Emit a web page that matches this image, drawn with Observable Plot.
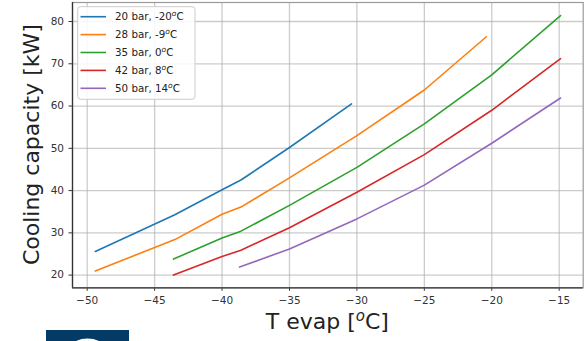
<!DOCTYPE html>
<html>
<head>
<meta charset="utf-8">
<script src="https://cdn.jsdelivr.net/npm/d3@7"></script>
<script src="https://cdn.jsdelivr.net/npm/@observablehq/plot@0.6"></script>
<style>
  html, body { margin: 0; padding: 0; background: white; }
  svg { display: block; }
</style>
</head>
<body>
<div id="chart"></div>
<script>
// ---- data ----
const seriesNames = ["20 bar, -20°C", "28 bar, -9°C", "35 bar, 0°C", "42 bar, 8°C", "50 bar, 14°C"];
const seriesColors = ["#1f77b4", "#ff7f0e", "#2ca02c", "#d62728", "#9467bd"];

const tEvap20 = [-49.4, -43.5, -40.0, -38.6, -35.0, -30.4];
const cap20   = [25.6, 34.3, 40.2, 42.5, 50.2, 60.5];

const tEvap28 = [-49.4, -43.5, -40.0, -38.6, -35.0, -30.0, -25.0, -20.4];
const cap28   = [21.0, 28.4, 34.4, 36.1, 43.0, 53.0, 63.8, 76.4];

const tEvap35 = [-43.6, -40.0, -38.6, -35.0, -30.0, -25.0, -20.0, -14.9];
const cap35   = [23.8, 28.8, 30.4, 36.5, 45.5, 55.8, 67.4, 81.4];

const tEvap42 = [-43.6, -40.0, -38.6, -35.0, -30.0, -25.0, -20.0, -14.9];
const cap42   = [20.0, 24.4, 25.9, 31.2, 39.6, 48.5, 59.0, 71.2];

const tEvap50 = [-38.7, -35.0, -30.0, -25.0, -20.0, -14.9];
const cap50   = [21.9, 26.2, 33.3, 41.3, 51.2, 61.9];

const xTicks = [-50, -45, -40, -35, -30, -25, -20, -15];
const yTicks = [20, 30, 40, 50, 60, 70, 80];
const xDomain = [-51.09, -13.22];
const yDomain = [17.0, 84.5];

// ---- build table ----
const xs = [tEvap20, tEvap28, tEvap35, tEvap42, tEvap50];
const ys = [cap20, cap28, cap35, cap42, cap50];
const rows = [];
seriesNames.forEach((name, i) => {
  xs[i].forEach((t, j) => rows.push({series: name, t, cap: ys[i][j]}));
});

const W = 588, H = 341;
const mL = 72, mR = 5.3, mT = 2, mB = 53.7;

const svg = Plot.plot({
  width: W, height: H,
  marginLeft: mL, marginRight: mR, marginTop: mT, marginBottom: mB,
  style: {fontFamily: "DejaVu Sans", fontSize: "10.5px", color: "#333", background: "white", overflow: "visible"},
  x: {domain: xDomain, ticks: xTicks, tickSize: 3.5, tickPadding: 5, label: null},
  y: {domain: yDomain, ticks: yTicks, tickSize: 3.5, tickPadding: 5, label: null},
  color: {domain: seriesNames, range: seriesColors},
  marks: [
    Plot.ruleX(xTicks, {stroke: "#b0b0b0", strokeOpacity: 0.65, strokeWidth: 1.3}),
    Plot.ruleY(yTicks, {stroke: "#b0b0b0", strokeOpacity: 0.65, strokeWidth: 1.3}),
    Plot.line(rows, {x: "t", y: "cap", z: "series", stroke: "series", strokeWidth: 1.6}),
    Plot.frame({stroke: "#9a9a9a", strokeWidth: 1.2}),
    Plot.ruleY([yDomain[0]], {stroke: "#333", strokeWidth: 1.3}),
    Plot.ruleX([xDomain[0]], {stroke: "#333", strokeWidth: 1.3})
  ]
});

document.getElementById("chart").appendChild(svg);

const s = d3.select(svg);
const plotCx = mL + (W - mL - mR) / 2;
const plotCy = mT + (H - mT - mB) / 2;

// y label
s.append("text")
  .attr("transform", `translate(39,${plotCy}) rotate(-90)`)
  .attr("text-anchor", "middle")
  .attr("font-family", "DejaVu Sans")
  .attr("font-size", 22)
  .attr("fill", "#222")
  .text("Cooling capacity [kW]");

// x label
const xl = s.append("text")
  .attr("x", plotCx).attr("y", 329)
  .attr("text-anchor", "middle")
  .attr("font-family", "DejaVu Sans")
  .attr("font-size", 22)
  .attr("fill", "#222");
xl.append("tspan").text("T evap [");
xl.append("tspan").attr("font-size", 15).attr("font-style", "italic").attr("dy", -8).text("o");
xl.append("tspan").attr("dy", 8).text("C]");

// legend
const lg = s.append("g").attr("font-family", "DejaVu Sans").attr("font-size", 10.3)
  .attr("fill", "#222").attr("text-anchor", "start");
lg.append("rect")
  .attr("x", 77.7).attr("y", 6.7).attr("width", 117.3).attr("height", 92.6)
  .attr("rx", 3).attr("fill", "white").attr("fill-opacity", 0.85)
  .attr("stroke", "#cccccc").attr("stroke-width", 1);
seriesNames.forEach((name, i) => {
  const y = 16.7 + i * 17.9;
  lg.append("line").attr("x1", 80.5).attr("x2", 106).attr("y1", y).attr("y2", y)
    .attr("stroke", seriesColors[i]).attr("stroke-width", 1.6);
  const [pre, post] = name.split("°");
  const t = lg.append("text").attr("x", 115).attr("y", y + 3.7).attr("text-anchor", "start");
  t.append("tspan").text(pre);
  t.append("tspan").attr("font-size", 7.5).attr("font-style", "italic").attr("dy", -4).text("o");
  t.append("tspan").attr("dy", 4).text(post);
});

// cropped logo at the bottom-left
const logo = s.append("g");
logo.append("rect").attr("x", 46).attr("y", 330).attr("width", 83).attr("height", 12).attr("fill", "#033a66");
logo.append("circle").attr("cx", 87.5).attr("cy", 368.6).attr("r", 30).attr("fill", "white");
</script>
</body>
</html>
